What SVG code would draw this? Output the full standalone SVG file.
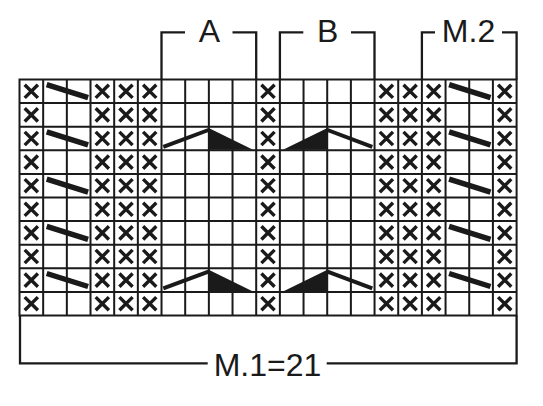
<svg xmlns="http://www.w3.org/2000/svg" xmlns:xlink="http://www.w3.org/1999/xlink" width="543" height="406" viewBox="0 0 543 406">
<style>
.grid{fill:none;stroke:#1a1a1a;stroke-width:2}
.br{fill:none;stroke:#1a1a1a;stroke-width:2.3}
.lbl{font-family:"Liberation Sans",Arial,sans-serif;font-size:32px;fill:#1a1a1a;text-anchor:middle}
.xm{fill:none;stroke:#1a1a1a;stroke-width:3.4}
.bar{stroke:#1a1a1a;stroke-width:5.5}
.chl{stroke:#1a1a1a;stroke-width:4}
.cht{fill:#1a1a1a}
</style>
<defs>
<path id="x" class="xm" d="M-6.6,-6.6 L6.6,6.6 M6.6,-6.6 L-6.6,6.6"/>
<line id="bar" class="bar" x1="0" y1="0" x2="41.4" y2="13"/>
<g id="chA">
<line class="chl" x1="163.3" y1="20.1" x2="208.5" y2="3.3"/>
<polygon class="cht" points="207.8,1.6 209.2,1.6 253,23.1 208.9,23.1"/>
</g>
<g id="chB">
<polygon class="cht" points="283,23.1 326.9,1.6 328.3,1.6 327.2,23.1"/>
<line class="chl" x1="327.5" y1="3.3" x2="372.3" y2="20.1"/>
</g>
</defs>
<rect width="543" height="406" fill="#fff"/>
<g id="chart-grid">
<rect class="grid" x="19.5" y="79.5" width="497.1" height="236"/>
<path class="grid" d="M43.17,79.5V315.5M66.84,79.5V315.5M90.51,79.5V315.5M114.18,79.5V315.5M137.85,79.5V315.5M161.52,79.5V315.5M185.19,79.5V315.5M208.86,79.5V315.5M232.53,79.5V315.5M256.2,79.5V315.5M279.87,79.5V315.5M303.54,79.5V315.5M327.21,79.5V315.5M350.88,79.5V315.5M374.55,79.5V315.5M398.22,79.5V315.5M421.89,79.5V315.5M445.56,79.5V315.5M469.23,79.5V315.5M492.9,79.5V315.5"/>
<path class="grid" d="M19.5,103.1H516.6M19.5,126.7H516.6M19.5,150.3H516.6M19.5,173.9H516.6M19.5,197.5H516.6M19.5,221.1H516.6M19.5,244.7H516.6M19.5,268.3H516.6M19.5,291.9H516.6"/>
</g>
<g id="x-marks">
<g id="col0" transform="translate(31.3,0)"><use xlink:href="#x" y="91.3"/><use xlink:href="#x" y="114.9"/><use xlink:href="#x" y="138.5"/><use xlink:href="#x" y="162.1"/><use xlink:href="#x" y="185.7"/><use xlink:href="#x" y="209.3"/><use xlink:href="#x" y="232.9"/><use xlink:href="#x" y="256.5"/><use xlink:href="#x" y="280.1"/><use xlink:href="#x" y="303.7"/></g>
<g id="col3" transform="translate(102.3,0)"><use xlink:href="#x" y="91.3"/><use xlink:href="#x" y="114.9"/><use xlink:href="#x" y="138.5"/><use xlink:href="#x" y="162.1"/><use xlink:href="#x" y="185.7"/><use xlink:href="#x" y="209.3"/><use xlink:href="#x" y="232.9"/><use xlink:href="#x" y="256.5"/><use xlink:href="#x" y="280.1"/><use xlink:href="#x" y="303.7"/></g>
<g id="col4" transform="translate(126,0)"><use xlink:href="#x" y="91.3"/><use xlink:href="#x" y="114.9"/><use xlink:href="#x" y="138.5"/><use xlink:href="#x" y="162.1"/><use xlink:href="#x" y="185.7"/><use xlink:href="#x" y="209.3"/><use xlink:href="#x" y="232.9"/><use xlink:href="#x" y="256.5"/><use xlink:href="#x" y="280.1"/><use xlink:href="#x" y="303.7"/></g>
<g id="col5" transform="translate(149.7,0)"><use xlink:href="#x" y="91.3"/><use xlink:href="#x" y="114.9"/><use xlink:href="#x" y="138.5"/><use xlink:href="#x" y="162.1"/><use xlink:href="#x" y="185.7"/><use xlink:href="#x" y="209.3"/><use xlink:href="#x" y="232.9"/><use xlink:href="#x" y="256.5"/><use xlink:href="#x" y="280.1"/><use xlink:href="#x" y="303.7"/></g>
<g id="col10" transform="translate(268,0)"><use xlink:href="#x" y="91.3"/><use xlink:href="#x" y="114.9"/><use xlink:href="#x" y="138.5"/><use xlink:href="#x" y="162.1"/><use xlink:href="#x" y="185.7"/><use xlink:href="#x" y="209.3"/><use xlink:href="#x" y="232.9"/><use xlink:href="#x" y="256.5"/><use xlink:href="#x" y="280.1"/><use xlink:href="#x" y="303.7"/></g>
<g id="col15" transform="translate(386.4,0)"><use xlink:href="#x" y="91.3"/><use xlink:href="#x" y="114.9"/><use xlink:href="#x" y="138.5"/><use xlink:href="#x" y="162.1"/><use xlink:href="#x" y="185.7"/><use xlink:href="#x" y="209.3"/><use xlink:href="#x" y="232.9"/><use xlink:href="#x" y="256.5"/><use xlink:href="#x" y="280.1"/><use xlink:href="#x" y="303.7"/></g>
<g id="col16" transform="translate(410.1,0)"><use xlink:href="#x" y="91.3"/><use xlink:href="#x" y="114.9"/><use xlink:href="#x" y="138.5"/><use xlink:href="#x" y="162.1"/><use xlink:href="#x" y="185.7"/><use xlink:href="#x" y="209.3"/><use xlink:href="#x" y="232.9"/><use xlink:href="#x" y="256.5"/><use xlink:href="#x" y="280.1"/><use xlink:href="#x" y="303.7"/></g>
<g id="col17" transform="translate(433.7,0)"><use xlink:href="#x" y="91.3"/><use xlink:href="#x" y="114.9"/><use xlink:href="#x" y="138.5"/><use xlink:href="#x" y="162.1"/><use xlink:href="#x" y="185.7"/><use xlink:href="#x" y="209.3"/><use xlink:href="#x" y="232.9"/><use xlink:href="#x" y="256.5"/><use xlink:href="#x" y="280.1"/><use xlink:href="#x" y="303.7"/></g>
<g id="col20" transform="translate(504.7,0)"><use xlink:href="#x" y="91.3"/><use xlink:href="#x" y="114.9"/><use xlink:href="#x" y="138.5"/><use xlink:href="#x" y="162.1"/><use xlink:href="#x" y="185.7"/><use xlink:href="#x" y="209.3"/><use xlink:href="#x" y="232.9"/><use xlink:href="#x" y="256.5"/><use xlink:href="#x" y="280.1"/><use xlink:href="#x" y="303.7"/></g>
</g>
<g id="bars">
<use xlink:href="#bar" x="46.7" y="84.7"/><use xlink:href="#bar" x="46.7" y="131.9"/><use xlink:href="#bar" x="46.7" y="179.1"/><use xlink:href="#bar" x="46.7" y="226.3"/><use xlink:href="#bar" x="46.7" y="273.5"/>
<use xlink:href="#bar" x="449.1" y="84.7"/><use xlink:href="#bar" x="449.1" y="131.9"/><use xlink:href="#bar" x="449.1" y="179.1"/><use xlink:href="#bar" x="449.1" y="226.3"/><use xlink:href="#bar" x="449.1" y="273.5"/>
</g>
<g id="chevrons">
<use xlink:href="#chA" y="126.7"/><use xlink:href="#chA" y="268.3"/>
<use xlink:href="#chB" y="126.7"/><use xlink:href="#chB" y="268.3"/>
</g>
<g id="connectors">
<path class="br" d="M161.5,79.5V32.3H185M232.5,32.3H256.2V79.5"/>
<path class="br" d="M279.9,79.5V32.3H303.3M351,32.3H374.5V79.5"/>
<path class="br" d="M421.9,79.5V32.3H435M502,32.3H516.6V79.5"/>
<path class="br" d="M20,315.5V363.3H207.7M326.7,363.3H516.6V315.5"/>
</g>
<g id="label-A"><text class="lbl" x="209.5" y="41.7">A</text></g>
<g id="label-B"><text class="lbl" x="327.7" y="41.7">B</text></g>
<g id="label-M2"><text class="lbl" x="468.5" y="41.7">M.2</text></g>
<g id="label-M1"><text class="lbl" x="267.5" y="376">M.1=21</text></g>
</svg>
